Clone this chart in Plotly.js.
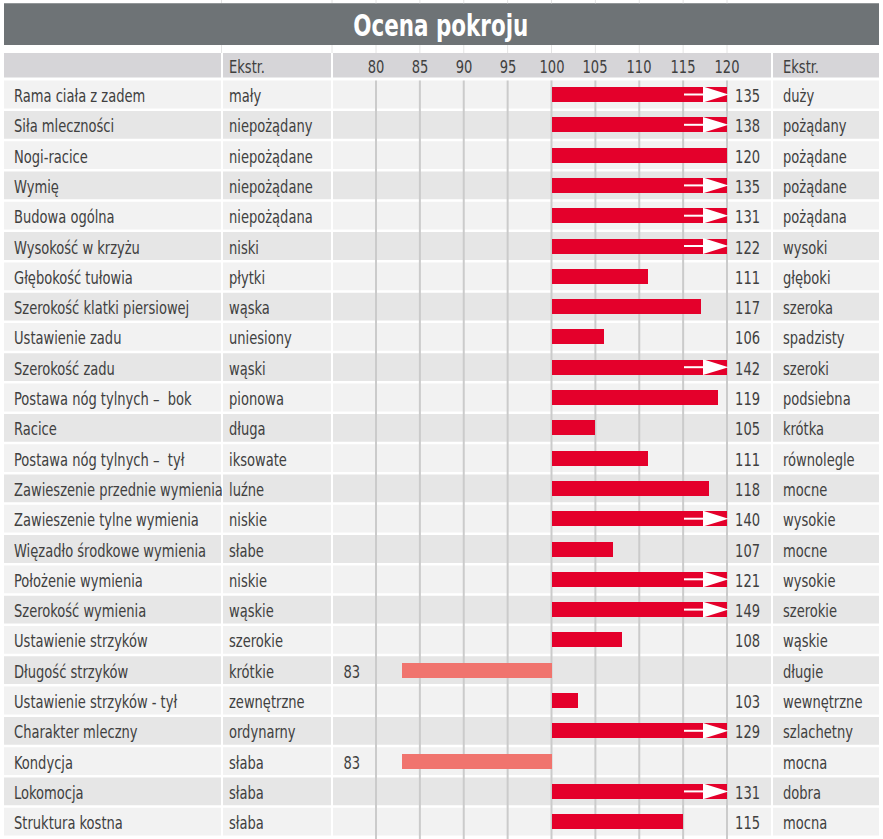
<!DOCTYPE html>
<html>
<head>
<meta charset="utf-8">
<script src="https://cdn.plot.ly/plotly-3.0.1.min.js"></script>
<style>html,body{margin:0;padding:0;background:#fff;}#chart{width:883px;height:839px;}</style>
</head>
<body>
<div id="chart"></div>
<script>
// ---- data ----
var titleText = "Ocena pokroju";
var headerLeft = "Ekstr.";
var headerRight = "Ekstr.";
var traits = ["Rama ciała z zadem","Siła mleczności","Nogi-racice","Wymię","Budowa ogólna","Wysokość w krzyżu","Głębokość tułowia","Szerokość klatki piersiowej","Ustawienie zadu","Szerokość zadu","Postawa nóg tylnych –  bok","Racice","Postawa nóg tylnych –  tył","Zawieszenie przednie wymienia","Zawieszenie tylne wymienia","Więzadło środkowe wymienia","Położenie wymienia","Szerokość wymienia","Ustawienie strzyków","Długość strzyków","Ustawienie strzyków - tył","Charakter mleczny","Kondycja","Lokomocja","Struktura kostna"];
var extremeLow = ["mały","niepożądany","niepożądane","niepożądane","niepożądana","niski","płytki","wąska","uniesiony","wąski","pionowa","długa","iksowate","luźne","niskie","słabe","niskie","wąskie","szerokie","krótkie","zewnętrzne","ordynarny","słaba","słaba","słaba"];
var values = [135,138,120,135,131,122,111,117,106,142,119,105,111,118,140,107,121,149,108,83,103,129,83,131,115];
var extremeHigh = ["duży","pożądany","pożądane","pożądane","pożądana","wysoki","głęboki","szeroka","spadzisty","szeroki","podsiebna","krótka","równolegle","mocne","wysokie","mocne","wysokie","szerokie","wąskie","długie","wewnętrzne","szlachetny","mocna","dobra","mocna"];
var ticks = [80,85,90,95,100,105,110,115,120];
var baseValue = 100;
var axisMax = 120;

// ---- geometry helpers ----
var W = 883, H = 839;
var pxPerUnit = 8.775, x80px = 376;
var xr = [80 - x80px / pxPerUnit, 80 + (W - x80px) / pxPerUnit];
var rowPitch = 30.3, row0px = 94.5;
var yr = [(H - row0px) / rowPitch, -row0px / rowPitch];
function py(p) { return (p - row0px) / rowPitch; }
function px(p) { return p / W; }
function vx(p) { return xr[0] + p / pxPerUnit; }

var FONT = "DejaVu Sans Condensed, DejaVu Sans, sans-serif";
var TXT = "#404040";
var RED = "#e4002b", PINK = "#f0746e";
var FS = 17.5;

var shapes = [], annotations = [], squeeze = [];
function addText(a, k) {
  a.showarrow = false; a.borderpad = 0; a.yanchor = 'middle';
  a.align = a.xanchor === 'left' ? 'left' : (a.xanchor === 'right' ? 'right' : 'center');
  annotations.push(a); squeeze.push(k || 0.83);
}
var cols = [[4,221],[223,331],[333,771],[773,879]];

// faint guide lines visible in the white strips above the table
[[0, 3.3], [45, 53]].forEach(function(seg){
  [221.5, 332].forEach(function(p){
    shapes.push({type:'line', xref:'paper', yref:'y', x0:px(p), x1:px(p), y0:py(seg[0]), y1:py(seg[1]), line:{color:'#e4e4e4', width:1}, layer:'below'});
  });
  ticks.forEach(function(t){
    shapes.push({type:'line', xref:'x', yref:'y', x0:t, x1:t, y0:py(seg[0]), y1:py(seg[1]), line:{color:'#e4e4e4', width:1}, layer:'below'});
  });
});
// title bar
shapes.push({type:'rect', xref:'paper', yref:'y', x0:px(4), x1:px(879), y0:py(3.3), y1:py(45), fillcolor:'#6e7376', line:{width:0}, layer:'below'});
addText({xref:'paper', yref:'y', x:px(441), y:py(25), text:'<b>'+titleText+'</b>', xanchor:'center', font:{family:FONT, size:31, color:'#ffffff'}}, 0.77);

// header row
cols.forEach(function(c){
  shapes.push({type:'rect', xref:'paper', yref:'y', x0:px(c[0]), x1:px(c[1]), y0:py(53), y1:py(77.5), fillcolor:'#d6d5d8', line:{width:0}, layer:'below'});
});
var hy = py(66.5);
addText({xref:'paper', yref:'y', x:px(228), y:hy, text:headerLeft, xanchor:'left', font:{family:FONT, size:FS, color:TXT}});
addText({xref:'paper', yref:'y', x:px(782), y:hy, text:headerRight, xanchor:'left', font:{family:FONT, size:FS, color:TXT}});
ticks.forEach(function(t){
  addText({xref:'x', yref:'y', x:t, y:hy, text:String(t), xanchor:'center', font:{family:FONT, size:FS, color:TXT}});
});

// row backgrounds
var half = 13.9 / rowPitch;
traits.forEach(function(t, i){
  var col = (i % 2 === 0) ? '#f2f2f2' : '#e6e6e6';
  cols.forEach(function(c){
    shapes.push({type:'rect', xref:'paper', yref:'y', x0:px(c[0]), x1:px(c[1]), y0:i-half, y1:i+half, fillcolor:col, line:{width:0}, layer:'below'});
  });
});
// gridlines
ticks.forEach(function(t){
  shapes.push({type:'line', xref:'x', yref:'y', x0:t, x1:t, y0:-half, y1:yr[0], line:{color:'#cbcbcb', width:2}, layer:'below'});
});

// row texts
traits.forEach(function(t, i){
  var ty = i + 1.5 / rowPitch;
  addText({xref:'paper', yref:'y', x:px(13), y:ty, text:t, xanchor:'left', font:{family:FONT, size:FS, color:TXT}});
  addText({xref:'paper', yref:'y', x:px(228), y:ty, text:extremeLow[i], xanchor:'left', font:{family:FONT, size:FS, color:TXT}});
  addText({xref:'paper', yref:'y', x:px(782), y:ty, text:extremeHigh[i], xanchor:'left', font:{family:FONT, size:FS, color:TXT}});
  var v = values[i];
  var lx = v >= baseValue ? px(761) : px(361);
  addText({xref:'paper', yref:'y', x:lx, y:ty, text:String(v), xanchor:'right', font:{family:FONT, size:FS, color:TXT}});
});

// bars
var idx = traits.map(function(_, i){ return i; });
var barBase = values.map(function(v){ return v >= baseValue ? baseValue : v; });
var barLen = values.map(function(v){ return v >= baseValue ? Math.min(v, axisMax) - baseValue : baseValue - v; });
var barCol = values.map(function(v){ return v >= baseValue ? RED : PINK; });
var traces = [{
  type:'bar', orientation:'h', y:idx, x:barLen, base:barBase, width:15/rowPitch,
  marker:{color:barCol, line:{width:0}}, hoverinfo:'skip', showlegend:false
}];
// overflow arrows for values beyond the axis
var lineX = [], lineY = [];
values.forEach(function(v, i){
  if (v > axisMax) {
    lineX.push(vx(684), vx(704), null); lineY.push(i, i, null);
    var h = 7.9 / rowPitch;
    traces.push({type:'scatter', mode:'lines', x:[vx(703), vx(728.5), vx(703), vx(703)], y:[i-h, i, i+h, i-h],
      fill:'toself', fillcolor:'#ffffff', line:{width:0, color:'#ffffff'}, hoverinfo:'skip', showlegend:false});
  }
});
traces.push({type:'scatter', mode:'lines', x:lineX, y:lineY, line:{color:'#ffffff', width:2}, hoverinfo:'skip', showlegend:false});

var layout = {
  width:W, height:H, margin:{l:0, r:0, t:0, b:0},
  paper_bgcolor:'#ffffff', plot_bgcolor:'#ffffff',
  xaxis:{range:xr, visible:false, fixedrange:true},
  yaxis:{range:yr, visible:false, fixedrange:true},
  shapes:shapes, annotations:annotations, showlegend:false, bargap:0
};
Plotly.newPlot('chart', traces, layout, {staticPlot:true, displayModeBar:false}).then(function(gd){
  // condense the letterforms horizontally to mimic the narrow typeface
  var groups = gd.querySelectorAll('g.annotation');
  groups.forEach(function(g){
    var i = +g.getAttribute('data-index');
    var el = g.querySelector('text.annotation-text');
    if (!el) return;
    var k = squeeze[i];
    var w = el.getComputedTextLength();
    el.setAttribute('lengthAdjust', 'spacingAndGlyphs');
    el.setAttribute('textLength', (w * k).toFixed(2));
    var d = w * (1 - k);
    var al = annotations[i].align;
    g.querySelectorAll('rect').forEach(function(r){
      var rw = parseFloat(r.getAttribute('width'));
      var rx = parseFloat(r.getAttribute('x') || 0);
      if (!isFinite(rw)) return;
      r.setAttribute('width', Math.max(0, rw - d).toFixed(2));
      if (al === 'right') r.setAttribute('x', (rx + d).toFixed(2));
      else if (al === 'center') r.setAttribute('x', (rx + d / 2).toFixed(2));
    });
  });
});
</script>
</body>
</html>
